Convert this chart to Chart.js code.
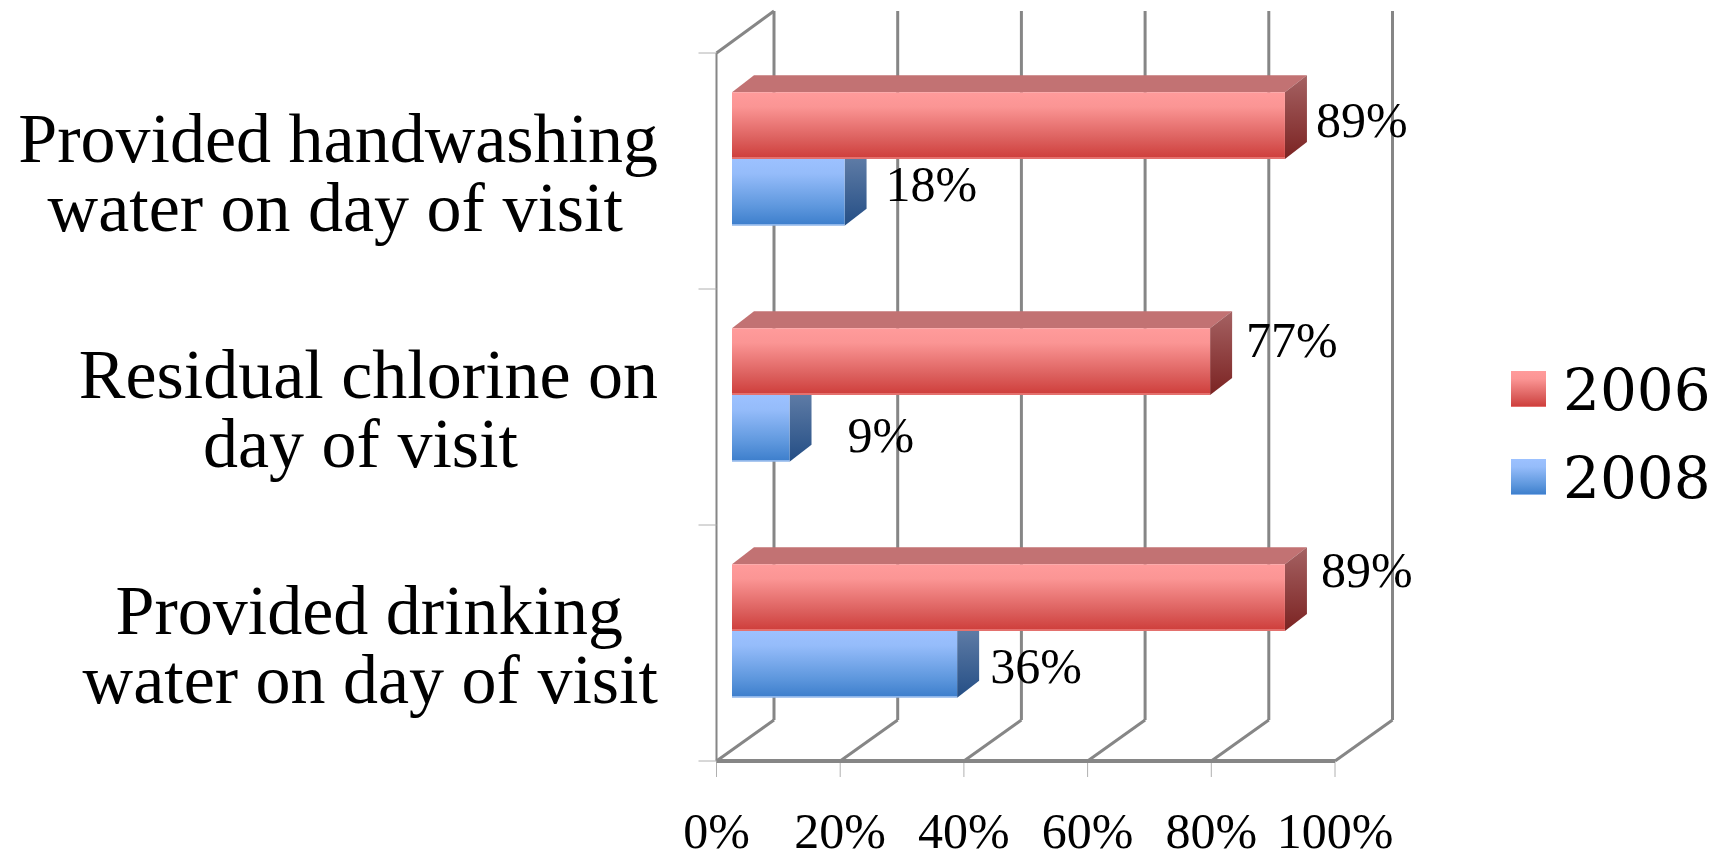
<!DOCTYPE html>
<html>
<head>
<meta charset="utf-8">
<style>
  html, body { margin: 0; padding: 0; background: #fff; }
  #wrap { width: 1726px; height: 855px; }
</style>
<script src="https://cdn.jsdelivr.net/npm/chart.js@4"></script>
</head>
<body>
<div id="wrap"><canvas id="myChart" width="1726" height="855"></canvas></div>
<script>
const categories = [
    ['Provided handwashing', 'water on day of visit'],
    ['Residual chlorine on', 'day of visit'],
    ['Provided drinking', 'water on day of visit']
];
const seriesNames = ['2006', '2008'];
const values2006 = [89.4, 77.3, 89.4];
const values2008 = [18.2, 9.3, 36.4];
const xTicks = [0, 20, 40, 60, 80, 100];

// hand placed data labels, px from end of bar / centre of bar
const nudge2006 = [[31, -2], [36, -18], [36, -24]];
const nudge2008 = [[41, -5], [58, 10], [33, 5]];

const SERIF = '"Liberation Serif", serif';
const LEGEND_FONT = '"DejaVu Serif", serif';
const GRID = '#868686';
const CAT_SIZE = 70;

// 3d look: bars sit this far in from the front wall
const WALL_DX = 15.5, WALL_DY = 12;
const BACK_DX = 57.5, BACK_DY = 41;
const BAR_DX = 22, BAR_DY = 17;

const red = { stops: ['#ff9b9b', '#fb9594', '#dc605e', '#cf403d'], edge: '#e4716e', top: '#c27273', side: ['#a56263', '#7b2322'] };
const blue = { stops: ['#9cc1ff', '#95bcfa', '#5f98de', '#3f80cd'], edge: '#8fb6ea', top: '#6c86ad', side: ['#6c86ad', '#244e85'] };
const looks = [red, blue];

function faceGradient(ctx2d, y0, y1, look) {
    const g = ctx2d.createLinearGradient(0, y0, 0, y1);
    g.addColorStop(0, look.stops[0]);
    g.addColorStop(0.22, look.stops[1]);
    g.addColorStop(0.7, look.stops[2]);
    g.addColorStop(0.97, look.stops[3]);
    g.addColorStop(0.975, look.edge);
    g.addColorStop(1, look.edge);
    return g;
}

function barFill(context) {
    const chart = context.chart;
    if (context.dataIndex === undefined || !chart.chartArea) return looks[context.datasetIndex].stops[0];
    const y = chart.scales.y.getPixelForValue(context.dataIndex);
    const band = chart.scales.y.height / categories.length * 0.566 / 2;
    const top = context.datasetIndex === 0 ? y - band : y;
    return faceGradient(chart.ctx, top, top + band, looks[context.datasetIndex]);
}

// centre the lines of a label by padding the short one, the axis right aligns them
const measure = document.createElement('canvas').getContext('2d');
function centreLines(lines, size) {
    measure.font = size + 'px ' + SERIF;
    const widest = Math.max(...lines.map(l => measure.measureText(l).width));
    const space = measure.measureText(' ').width;
    return lines.map(l => l + ' '.repeat(Math.round((widest - measure.measureText(l).width) / 2 / space)));
}

const wallsPlugin = {
    id: 'walls',
    beforeDatasetsDraw(chart) {
        const { ctx, chartArea, scales } = chart;
        const frontBottom = chartArea.bottom + WALL_DY;
        const frontTop = chartArea.top + WALL_DY;
        const line = (x0, y0, x1, y1, w, c) => {
            ctx.beginPath();
            ctx.moveTo(x0, y0);
            ctx.lineTo(x1, y1);
            ctx.lineWidth = w;
            ctx.strokeStyle = c || GRID;
            ctx.stroke();
        };
        ctx.save();
        const x0 = scales.x.getPixelForValue(0) - WALL_DX;
        xTicks.forEach(function (v) {
            const x = scales.x.getPixelForValue(v) - WALL_DX;
            line(x, frontBottom, x + BACK_DX, frontBottom - BACK_DY, 3);
            line(x + BACK_DX, frontBottom - BACK_DY, x + BACK_DX, frontTop - BACK_DY - 1, 3);
            line(x, frontBottom, x, frontBottom + 16, 1, '#b0b0b0');
        });
        line(x0, frontTop, x0 + BACK_DX, frontTop - BACK_DY - 1, 3);
        line(x0, frontTop, x0, frontBottom, 2);
        line(x0, frontBottom, scales.x.getPixelForValue(100) - WALL_DX, frontBottom, 4);
        for (let i = 0; i <= categories.length; i++) {
            const y = frontTop + i * scales.y.height / categories.length;
            line(x0 - 18, y, x0, y, 1, '#b0b0b0');
        }
        // top and side faces of the bars, the front comes from the bar elements
        chart.data.datasets.forEach(function (ds, d) {
            chart.getDatasetMeta(d).data.forEach(function (bar) {
                const top = bar.y - bar.height / 2, bottom = bar.y + bar.height / 2;
                const look = looks[d];
                ctx.beginPath();
                ctx.moveTo(bar.base, top);
                ctx.lineTo(bar.base + BAR_DX, top - BAR_DY);
                ctx.lineTo(bar.x + BAR_DX, top - BAR_DY);
                ctx.lineTo(bar.x, top);
                ctx.closePath();
                ctx.fillStyle = look.top;
                ctx.fill();
                const g = ctx.createLinearGradient(0, top - BAR_DY, 0, bottom);
                g.addColorStop(0, look.side[0]);
                g.addColorStop(1, look.side[1]);
                ctx.beginPath();
                ctx.moveTo(bar.x, top);
                ctx.lineTo(bar.x + BAR_DX, top - BAR_DY);
                ctx.lineTo(bar.x + BAR_DX, bottom - BAR_DY);
                ctx.lineTo(bar.x, bottom);
                ctx.closePath();
                ctx.fillStyle = g;
                ctx.fill();
            });
        });
        ctx.restore();
    }
};

const labelsPlugin = {
    id: 'barLabels',
    afterDraw(chart) {
        const ctx = chart.ctx;
        ctx.save();
        ctx.fillStyle = '#000';
        ctx.font = '50px ' + SERIF;
        ctx.textAlign = 'left';
        ctx.textBaseline = 'middle';
        [nudge2006, nudge2008].forEach(function (nudges, d) {
            chart.getDatasetMeta(d).data.forEach(function (bar, i) {
                const val = Math.round(chart.data.datasets[d].data[i]);
                ctx.fillText(val + '%', bar.x + nudges[i][0], bar.y + nudges[i][1]);
            });
        });
        // legend
        ctx.font = '58px ' + LEGEND_FONT;
        ctx.textBaseline = 'alphabetic';
        seriesNames.forEach(function (name, d) {
            const y = 371 + d * 88;
            ctx.fillStyle = faceGradient(ctx, y, y + 36, looks[d]);
            ctx.fillRect(1511, y, 35, 36);
            ctx.fillStyle = '#000';
            ctx.fillText(name, 1563, y + 39);
        });
        ctx.restore();
    }
};

function render_chart() {
    const ctx = document.getElementById('myChart');
    const myChart = new Chart(ctx, {
        type: 'bar',
        data: {
            labels: categories,
            datasets: [
                { label: seriesNames[0], data: values2006, backgroundColor: barFill },
                { label: seriesNames[1], data: values2008, backgroundColor: barFill }
            ]
        },
        options: {
            indexAxis: 'y',
            responsive: false,
            animation: false,
            layout: { autoPadding: false, padding: { top: 41, right: 375.5, left: 0, bottom: 0 } },
            categoryPercentage: 0.566,
            barPercentage: 1,
            scales: {
                x: {
                    min: 0,
                    max: 100,
                    grid: { display: false, drawTicks: false },
                    border: { display: false },
                    afterFit: function (scale) {
                        scale.height = 106;
                        scale.paddingLeft = 0;
                        scale.paddingRight = 0;
                    },
                    afterBuildTicks: function (scale) { scale.ticks = xTicks.map(v => ({ value: v })); },
                    ticks: {
                        padding: 56,
                        labelOffset: -WALL_DX,
                        maxRotation: 0,
                        color: '#000',
                        font: { family: SERIF, size: 50 },
                        callback: function (v) { return v + '%'; }
                    }
                },
                y: {
                    grid: { display: false, drawTicks: false },
                    border: { display: false },
                    afterFit: function (scale) {
                        scale.width = 732;
                        scale.paddingTop = 0;
                        scale.paddingBottom = 0;
                    },
                    ticks: {
                        padding: 74,
                        labelOffset: 19,
                        color: '#000',
                        font: { family: SERIF, size: CAT_SIZE, lineHeight: '69px' },
                        callback: function (v, i) { return centreLines(categories[i], CAT_SIZE); }
                    }
                }
            },
            plugins: {
                legend: { display: false },
                tooltip: { enabled: false }
            }
        },
        plugins: [wallsPlugin, labelsPlugin]
    });
}

render_chart();
</script>
</body>
</html>
